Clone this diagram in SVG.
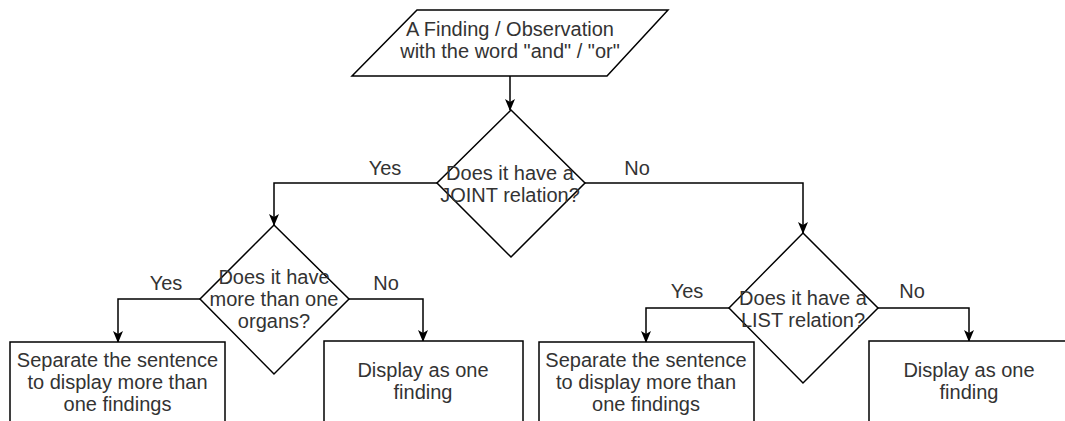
<svg xmlns="http://www.w3.org/2000/svg" width="1065" height="421" viewBox="0 0 1065 421">
  <style>
    .shape { fill: #ffffff; stroke: #000000; stroke-width: 1.5; }
    .edge { fill: none; stroke: #000000; stroke-width: 1.5; marker-end: url(#arrow); }
    text { font-family: "Liberation Sans", Arial, Helvetica, sans-serif; font-size: 20px; fill: #333333; text-anchor: middle; }
  </style>
  <defs>
    <marker id="arrow" viewBox="0 0 12 10" markerWidth="12" markerHeight="10" refX="11" refY="5" orient="auto" markerUnits="userSpaceOnUse">
      <path d="M0,0 L12,5 L0,10 L3,5 Z" fill="#000000"/>
    </marker>
  </defs>

  <rect width="1065" height="421" fill="#ffffff"/>

  <!-- connectors -->
  <g id="connectors">
    <path class="edge" d="M510,76 L510,110"/>
    <path class="edge" d="M437,183 L274,183 L274,225"/>
    <path class="edge" d="M585,183 L803,183 L803,233"/>
    <path class="edge" d="M200,299 L118,299 L118,342"/>
    <path class="edge" d="M349,299 L423,299 L423,341"/>
    <path class="edge" d="M729,308 L646,308 L646,342"/>
    <path class="edge" d="M878,308 L969,308 L969,341"/>
    <text x="385" y="175">Yes</text>
    <text x="637" y="175">No</text>
    <text x="166" y="290">Yes</text>
    <text x="386" y="290">No</text>
    <text x="687" y="298">Yes</text>
    <text x="912" y="298">No</text>
  </g>

  <!-- input: the finding -->
  <g id="input">
    <polygon class="shape" points="417,10 668,10 607,76 352,76"/>
    <text x="510" y="36">A Finding / Observation<tspan x="510" dy="22">with the word "and" / "or"</tspan></text>
  </g>

  <!-- decision: joint relation -->
  <g id="joint">
    <polygon class="shape" points="511,110 585,183 511,257 437,183"/>
    <text x="510" y="180">Does it have a<tspan x="510" dy="22">JOINT relation?</tspan></text>
  </g>

  <!-- decision: more than one organ -->
  <g id="organs">
    <polygon class="shape" points="274,225 349,299 274,374 200,299"/>
    <text x="274" y="284">Does it have<tspan x="274" dy="22">more than one</tspan><tspan x="274" dy="22">organs?</tspan></text>
  </g>

  <!-- decision: list relation -->
  <g id="list">
    <polygon class="shape" points="803,233 878,308 803,383 729,308"/>
    <text x="803" y="305">Does it have a<tspan x="803" dy="22">LIST relation?</tspan></text>
  </g>

  <!-- outcome: split (organs) -->
  <g id="split-organs">
    <rect class="shape" x="10" y="342" width="215" height="100"/>
    <text x="117.5" y="367">Separate the sentence<tspan x="117.5" dy="22">to display more than</tspan><tspan x="117.5" dy="22">one findings</tspan></text>
  </g>

  <!-- outcome: single (organs) -->
  <g id="single-organs">
    <rect class="shape" x="324" y="341" width="199" height="100"/>
    <text x="423" y="377">Display as one<tspan x="423" dy="22">finding</tspan></text>
  </g>

  <!-- outcome: split (list) -->
  <g id="split-list">
    <rect class="shape" x="539" y="342" width="215" height="100"/>
    <text x="646" y="367">Separate the sentence<tspan x="646" dy="22">to display more than</tspan><tspan x="646" dy="22">one findings</tspan></text>
  </g>

  <!-- outcome: single (list) -->
  <g id="single-list">
    <rect class="shape" x="869" y="341" width="200" height="100"/>
    <text x="969" y="377">Display as one<tspan x="969" dy="22">finding</tspan></text>
  </g>
</svg>
